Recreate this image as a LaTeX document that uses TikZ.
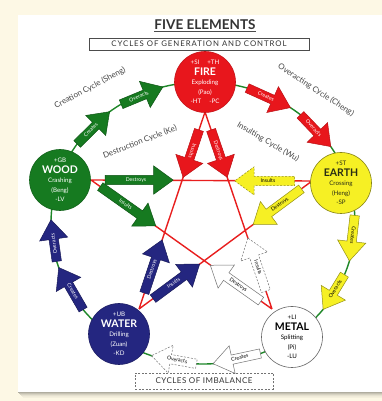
\documentclass[tikz,border=0pt]{standalone}
\usepackage{fontspec}
\setmainfont{Lato}
\usetikzlibrary{shapes.arrows,calc}
\definecolor{bgc}{RGB}{253,248,229}
\definecolor{firec}{RGB}{232,22,28}
\definecolor{woodc}{RGB}{22,122,32}
\definecolor{earthc}{RGB}{246,240,36}
\definecolor{waterc}{RGB}{36,38,128}
\definecolor{linegreen}{RGB}{30,135,40}
\definecolor{linered}{RGB}{232,30,30}
\definecolor{txtgray}{RGB}{70,70,70}
\definecolor{earthtxt}{RGB}{40,45,20}
\tikzset{
  elem/.style={circle, minimum size=61pt, inner sep=0pt, draw, line width=0.6pt, align=center, font=\fontsize{6.2}{9.6}\selectfont},
  arr/.style={single arrow, draw, line width=0.5pt, inner xsep=1.5pt, inner ysep=2pt, text height=3.8pt, text depth=1pt, single arrow head extend=9.5pt, single arrow tip angle=72, font=\fontsize{5.2}{5.2}\selectfont},
  garr/.style={arr, fill=woodc, draw=woodc!70!black, text=white},
  rarr/.style={arr, fill=firec, draw=firec!80!black, text=white},
  yarr/.style={arr, fill=earthc, draw=earthc!60!black, text=black},
  barr/.style={arr, fill=waterc, draw=waterc!70!black, text=white},
  warr/.style={arr, fill=white, draw=black!55, text=black},
  dashy/.style={dash pattern=on 2pt off 1.5pt},
  flip/.style={shape border rotate=180},
  cyclab/.style={text=txtgray, font=\fontsize{8}{8}\selectfont},
  pent/.style={draw=linered, line width=1.4pt},
  outerc/.style={draw=linegreen, line width=1.4pt},
}
% arrow along the outer ellipse: name, start param angle, end param angle, style, label, flip
\newcommand\cycarrow[6]{%
  \pgfmathsetmacro\cxa{152*cos(#2)}\pgfmathsetmacro\cya{141*sin(#2)}%
  \pgfmathsetmacro\cxb{152*cos(#3)}\pgfmathsetmacro\cyb{141*sin(#3)}%
  \pgfmathsetmacro\cyclen{veclen(\cxb-\cxa,\cyb-\cya)}%
  \pgfmathsetmacro\cycdir{atan2(\cyb-\cya,\cxb-\cxa)}%
  \ifnum#6=1 \pgfmathsetmacro\cycrot{\cycdir+180}\def\cycbr{180}\else\let\cycrot\cycdir\def\cycbr{0}\fi
  \node[#4, minimum height=\cyclen pt, rotate=\cycrot, shape border rotate=\cycbr, anchor=tail] (#1) at ($(C)+(\cxa pt,\cya pt)$) {#5};
}
\newcommand\linarrow[8]{%
  \node[#7, minimum height=#5pt, rotate=#6, anchor=tail] (#1) at ($(#2)!#4!(#3)$) {#8};
}
\newcommand\eltext[5]{#1\\[1pt]{\fontsize{10.5}{10}\selectfont\bfseries #2}\\#3\\#4\\#5}
\begin{document}
\begin{tikzpicture}[x=1pt,y=1pt]
\useasboundingbox (0,0) rectangle (382,401);
\fill[bgc] (0,0) rectangle (382,401);
\foreach \k/\o in {0/0.30,1/0.22,2/0.15,3/0.09,4/0.05,5/0.03}
  \fill[black,opacity=\o] (18+\k,8-\k) rectangle (382,9-\k);
\fill[white] (18,9) rectangle (382,386);

\coordinate (C) at (203,178);
\coordinate (F) at (205,289);
\coordinate (Wd) at (91,221);
\coordinate (E) at (312,220);
\coordinate (Wa) at (139,92);
\coordinate (M) at (272,92);

\draw[outerc] (C) ellipse[x radius=152pt, y radius=141pt];
\draw[pent] (F) -- (Wa) (F) -- (M) (Wd) -- (E) (Wd) -- (M) (E) -- (Wa);

% generation / overacting cycle arrows
\cycarrow{gcre}{146}{128}{garr}{Creates}{0}
\cycarrow{gove}{122.7}{105.4}{garr}{Overacts}{0}
\cycarrow{rcre}{73.2}{55}{rarr}{Creates}{0}
\cycarrow{rove}{50.2}{32.9}{rarr}{Overacts}{0}
\cycarrow{ycre}{3.2}{-15.5}{yarr}{Creates}{0}
\cycarrow{yove}{-21.4}{-37.7}{yarr}{Overacts}{1}
\cycarrow{wcre}{292.3}{273.9}{warr}{Creates}{1}
\cycarrow{wove}{267.6}{250.3}{warr,dashy}{Overacts}{1}
\cycarrow{bcre}{218}{198.5}{barr}{Creates}{1}
\cycarrow{bove}{195.9}{178.8}{barr}{Overacts}{0}

% destruction / insulting arrows
\linarrow{rins}{F}{Wa}{0.09}{50}{-108.5}{rarr}{Insults}
\linarrow{rdes}{F}{M}{0.09}{50}{-71.2}{rarr}{Destroys}
\linarrow{gdes}{Wd}{E}{0.063}{68}{0}{garr}{Destroys}
\linarrow{gins}{Wd}{M}{0.05}{68}{-35.3}{garr}{Insults}
\linarrow{yins}{E}{Wd}{0.077}{60}{0}{yarr,dashy,flip}{Insults}
\linarrow{ydes}{E}{Wa}{0.06}{60}{36.5}{yarr,flip}{Destroys}
\linarrow{bdes}{Wa}{F}{0.08}{56}{71.5}{barr}{Destroys}
\linarrow{bins}{Wa}{E}{0.08}{58}{36.5}{barr}{Insults}
\linarrow{wdes}{M}{Wd}{0.06}{62}{-35.3}{warr,flip}{Destroys}
\linarrow{wins}{M}{F}{0.09}{56}{-71.2}{warr,dashy,flip}{Insults}

% elements
\node[elem, fill=firec, draw=firec!85!black, text=white] (fire) at (205,319)
  {\eltext{+SI\hspace{8pt}+TH}{FIRE}{Exploding}{(Pao)}{-HT\hspace{8pt}-PC}};
\node[elem, fill=woodc, draw=woodc!80!black, text=white] (wood) at (60,221)
  {\eltext{+GB}{WOOD}{Crashing}{(Beng)}{-LV}};
\node[elem, fill=earthc, draw=earthc!55!black, text=earthtxt] (earth) at (341,218)
  {\eltext{+ST}{EARTH}{Crossing}{(Heng)}{-SP}};
\node[elem, fill=waterc, draw=waterc!80!black, text=white] (water) at (119,67)
  {\eltext{+UB}{WATER}{Drilling}{(Zuan)}{-KD}};
\node[elem, fill=white, draw=black!60, text=black] (metal) at (292,64)
  {\eltext{+LI}{METAL}{Splitting}{(Pi)}{-LU}};

% cycle labels
\node[cyclab, rotate=28] (sheng) at (90,313) {Creation Cycle (Sheng)};
\node[cyclab, rotate=-33] (cheng) at (316,311) {Overacting Cycle (Cheng)};
\node[cyclab, rotate=21] (ke) at (140,259) {Destruction Cycle (Ke)};
\node[cyclab, rotate=-30] (wu) at (268,259) {Insulting Cycle (Wu)};

% titles
\node[text=black!80, font=\fontsize{13.5}{14}\selectfont\bfseries, inner sep=0pt] (title) at (205,376) {FIVE ELEMENTS};
\draw[black!70, line width=0.7pt] ([yshift=-1.8pt]title.base west) -- ([yshift=-1.8pt]title.base east);
\node[draw=black!70, line width=0.6pt, minimum width=220pt, minimum height=12pt, inner sep=0pt, font=\fontsize{7.8}{8}\selectfont\addfontfeature{LetterSpace=12}, text=black!80] (gen) at (199,357) {CYCLES OF GENERATION AND CONTROL};
\node[draw=black!55, dashy, line width=0.6pt, minimum width=138pt, minimum height=16pt, inner sep=0pt, font=\fontsize{8}{8}\selectfont\addfontfeature{LetterSpace=6}, text=black!80] (imb) at (204,20) {CYCLES OF IMBALANCE};
\end{tikzpicture}
\end{document}
